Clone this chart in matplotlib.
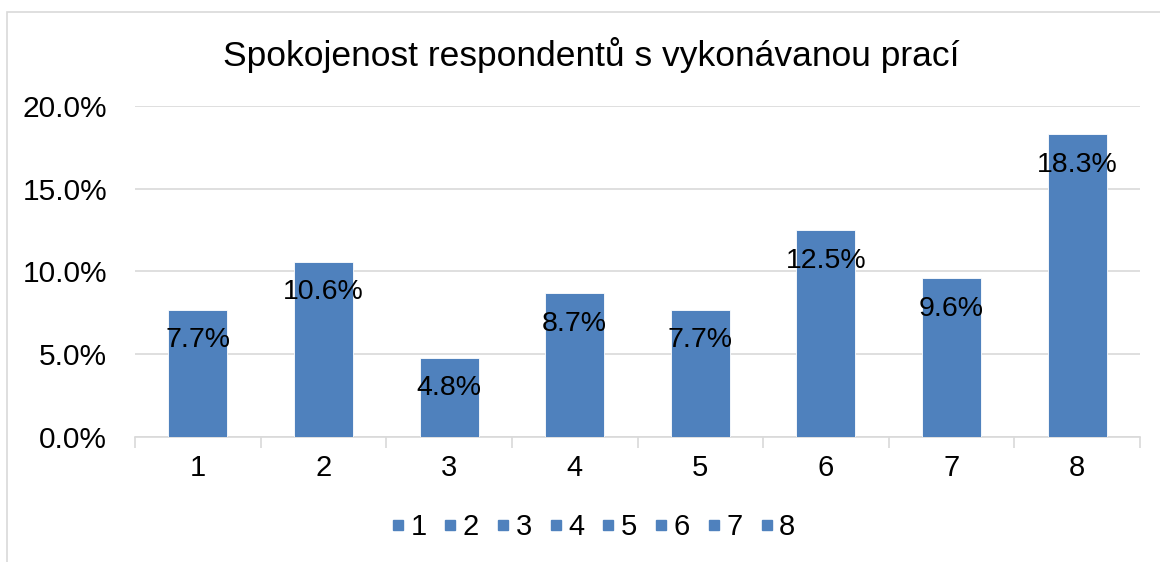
import matplotlib.pyplot as plt
from matplotlib.lines import Line2D
from matplotlib.patches import Rectangle
from matplotlib.ticker import FuncFormatter
import numpy as np

# Chart data
categories = ['1', '2', '3', '4', '5', '6', '7', '8']
values = [7.7, 10.6, 4.8, 8.7, 7.7, 12.5, 9.6, 18.3]
labels = ['7.7%', '10.6%', '4.8%', '8.7%', '7.7%', '12.5%', '9.6%', '18.3%']
title = 'Spokojenost respondentů s vykonávanou prací'

plt.rcParams['font.family'] = ['Liberation Sans', 'DejaVu Sans']

BLUE = '#4f81bd'
GRID = '#d9d9d9'

W, H = 1160, 562
fig = plt.figure(figsize=(W / 100, H / 100), dpi=100)
ax = fig.add_axes([135 / W, 1 - 437 / H, (1140 - 135) / W, (437 - 106) / H])

# chart border (cropped on right/bottom)
fig.patches.append(Rectangle((7 / W, -0.2), 1.5, 1 - 12 / H + 0.2,
                             transform=fig.transFigure, fill=False,
                             edgecolor=GRID, linewidth=1.2, clip_on=False))

x = np.arange(len(categories))
bars = ax.bar(x, values, width=0.47, color=BLUE, edgecolor='white',
              linewidth=0.6, zorder=3)

for xi, v, lab in zip(x, values, labels):
    ax.annotate(lab, (xi, v), xytext=(0, -22), textcoords='offset points',
                ha='center', va='center', fontsize=20.5, color='black', zorder=4)

ax.set_xlim(-0.5, len(categories) - 0.5)
ax.set_ylim(0, 20)
ax.set_yticks([0, 5, 10, 15, 20])
ax.yaxis.set_major_formatter(FuncFormatter(lambda v, p: f'{v:.1f}%'))
ax.set_xticks(x)
ax.set_xticklabels(categories)
ax.set_xticks(np.arange(-0.5, len(categories)), minor=True)
ax.tick_params(axis='x', which='major', length=0, pad=12, labelsize=21)
ax.tick_params(axis='x', which='minor', length=8, color=GRID, width=1.2)
ax.tick_params(axis='y', length=0, pad=20, labelsize=21.5)

ax.grid(axis='y', color=GRID, linewidth=1.2, zorder=0)
for side in ['top', 'right', 'left']:
    ax.spines[side].set_visible(False)
ax.spines['bottom'].set_color(GRID)
ax.spines['bottom'].set_linewidth(1.2)

fig.text(591 / W, 1 - 55 / H, title, ha='center', va='center', fontsize=25.5)

handles = [Line2D([], [], marker='s', linestyle='none', color=BLUE, markersize=7)
           for _ in categories]
fig.legend(handles, categories, loc='center', bbox_to_anchor=(594 / W, 1 - 527 / H),
           ncol=len(categories), frameon=False, fontsize=21, handlelength=0.35,
           handletextpad=0.25, columnspacing=0.65, borderpad=0)

fig.savefig('out.png', dpi=100)
